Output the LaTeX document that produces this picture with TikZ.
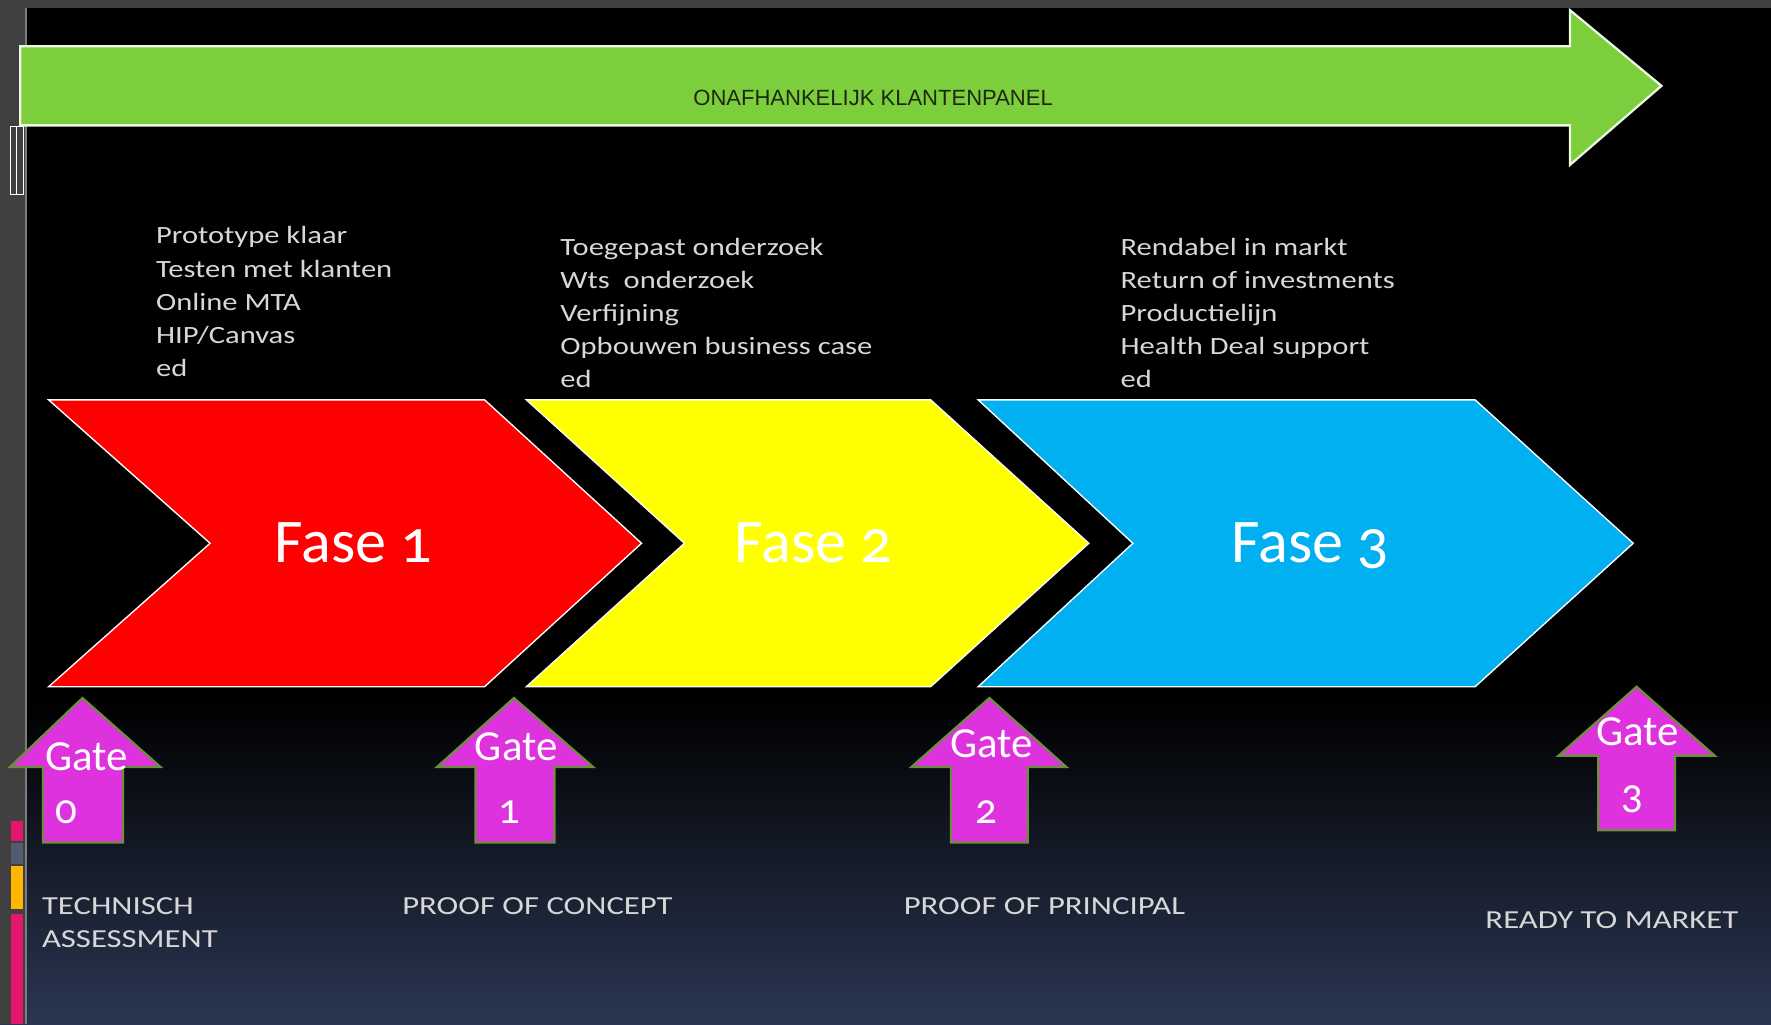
\documentclass[tikz,border=0pt]{standalone}
\usepackage{fontspec}
\usepackage{graphicx}
\setmainfont{Carlito}[Numbers=OldStyle]
\newfontfamily\arialf{Liberation Sans}
\definecolor{framegray}{RGB}{64,64,64}
\definecolor{framelight}{RGB}{125,125,125}
\definecolor{bgnavy}{RGB}{42,54,82}
\definecolor{arrowgreen}{RGB}{125,206,60}
\definecolor{arrowtext}{RGB}{28,42,16}
\definecolor{phasered}{RGB}{255,0,0}
\definecolor{phaseyellow}{RGB}{255,255,0}
\definecolor{phaseblue}{RGB}{0,176,240}
\definecolor{gatefill}{RGB}{222,50,222}
\definecolor{gateline}{RGB}{112,140,62}
\definecolor{listgray}{RGB}{215,215,215}
\definecolor{barpink}{RGB}{228,22,110}
\definecolor{barblue}{RGB}{80,92,112}
\definecolor{barorange}{RGB}{255,182,0}
\tikzset{
  chevron/.style={draw=white, line width=1.2pt, line join=miter},
  gatearrow/.style={fill=gatefill, draw=gateline, line width=2pt, line join=miter},
  fasetext/.style={text=white, font=\fontsize{55}{62}\selectfont, inner sep=0pt, anchor=base},
  gatetext/.style={text=white, font=\fontsize{38}{44}\selectfont, inner sep=0pt, anchor=base},
  listtext/.style={text=listgray, inner sep=0pt, anchor=base west},
  labeltext/.style={text=listgray, inner sep=0pt, anchor=base west},
}
\newcommand{\listblock}[1]{\scalebox{1.23}[1]{\fontsize{22}{29.3}\selectfont\begin{tabular}[t]{@{}l@{}}#1\end{tabular}}}
\newcommand{\labelblock}[1]{\scalebox{1.26}[1]{\fontsize{23}{29}\selectfont\begin{tabular}[t]{@{}l@{}}#1\end{tabular}}}
\begin{document}
\begin{tikzpicture}[x=1pt,y=1pt]
\useasboundingbox (0,0) rectangle (1568,-907);
% background
\fill[black] (0,0) rectangle (1568,-907);
\shade[top color=black, bottom color=bgnavy] (0,-620) rectangle (1568,-907.5);
% screen frame
\fill[framegray] (0,0) rectangle (1568,-7);
\fill[framegray] (0,0) rectangle (22,-907);
\draw[framelight, line width=1.5pt] (23,-7) -- (23,-907);
\draw[white, line width=0.8pt] (9,-112) rectangle (15,-172);
\draw[white, line width=0.8pt] (15,-112) rectangle (21,-172);
\fill[barpink] (10,-727) rectangle (20,-745);
\fill[barblue] (10,-746) rectangle (20,-765);
\fill[barorange] (10,-767) rectangle (20,-805);
\fill[barpink] (10,-809) rectangle (20,-907);

% top green arrow
\draw[fill=arrowgreen, draw=white!85!arrowgreen, line width=2pt, line join=miter]
  (18,-41) -- (1390,-41) -- (1390,-9) -- (1471,-76) -- (1390,-146) -- (1390,-111) -- (18,-111) -- cycle;
\node[text=arrowtext, inner sep=0pt, anchor=base, font=\arialf\fontsize{19.5}{22}\selectfont] (panel) at (773,-93) {ONAFHANKELIJK KLANTENPANEL};

% phase lists
\node[listtext] (list1) at (138,-216) {\listblock{Prototype klaar\\Testen met klanten\\Online MTA\\HIP/Canvas\\ed}};
\node[listtext] (list2) at (496,-226) {\listblock{Toegepast onderzoek\\Wts~ onderzoek\\Verfijning\\Opbouwen business case\\ed}};
\node[listtext] (list3) at (992,-226) {\listblock{Rendabel in markt\\Return of investments\\Productielijn\\Health Deal support\\ed}};

% chevrons
\path[chevron, fill=phasered] (43,-354) -- (429,-354) -- (568,-481) -- (429,-608) -- (43,-608) -- (186,-481) -- cycle;
\path[chevron, fill=phaseyellow] (466,-354) -- (824,-354) -- (964,-481) -- (824,-608) -- (466,-608) -- (606,-481) -- cycle;
\path[chevron, fill=phaseblue] (866,-354) -- (1306,-354) -- (1446,-481) -- (1306,-608) -- (866,-608) -- (1003,-481) -- cycle;
\node[fasetext] (fase1) at (313,-498) {Fase 1};
\node[fasetext] (fase2) at (720,-498) {Fase 2};
\node[fasetext] (fase3) at (1160,-498) {Fase 3};

% gate arrows
\path[gatearrow] (73,-618) -- (142,-679) -- (109,-679) -- (109,-746) -- (38,-746) -- (38,-679) -- (9,-679) -- cycle;
\path[gatearrow] (455,-618) -- (525,-679) -- (491,-679) -- (491,-746) -- (421,-746) -- (421,-679) -- (387,-679) -- cycle;
\path[gatearrow] (876,-618) -- (944,-679) -- (910,-679) -- (910,-746) -- (842,-746) -- (842,-679) -- (807,-679) -- cycle;
\path[gatearrow] (1449,-608) -- (1518,-669) -- (1483,-669) -- (1483,-735) -- (1415,-735) -- (1415,-669) -- (1380,-669) -- cycle;
\node[gatetext] (g0) at (77,-682) {Gate};
\node[gatetext] (g0n) at (59,-729) {0};
\node[gatetext] (g1) at (457,-673) {Gate};
\node[gatetext] (g1n) at (451,-729) {1};
\node[gatetext] (g2) at (878,-671) {Gate};
\node[gatetext] (g2n) at (873,-729) {2};
\node[gatetext] (g3) at (1450,-660) {Gate};
\node[gatetext] (g3n) at (1445,-716) {3};

% gate labels
\node[labeltext] (lab0) at (37,-810) {\labelblock{TECHNISCH\\ASSESSMENT}};
\node[labeltext] (lab1) at (356,-810) {\labelblock{PROOF OF CONCEPT}};
\node[labeltext] (lab2) at (800,-810) {\labelblock{PROOF OF PRINCIPAL}};
\node[labeltext] (lab3) at (1315,-822) {\labelblock{READY TO MARKET}};
\end{tikzpicture}
\end{document}
